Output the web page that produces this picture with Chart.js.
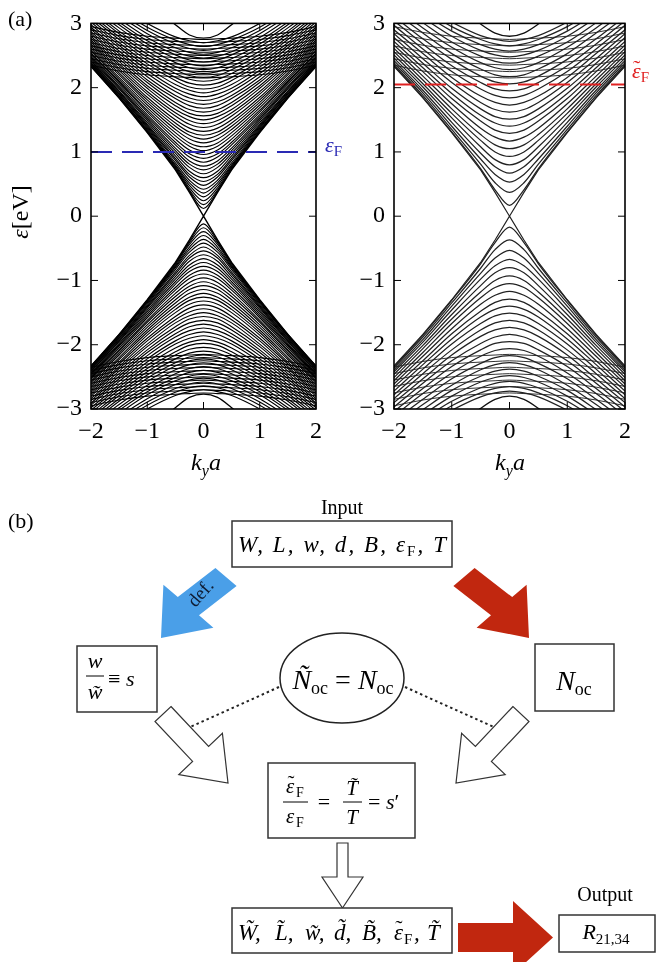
<!DOCTYPE html>
<html>
<head>
<meta charset="utf-8">
<script src="https://cdn.jsdelivr.net/npm/chart.js@4.4.1/dist/chart.umd.min.js"></script>
<style>
body { margin: 0; background: #fff; }
#page { position: relative; width: 656px; height: 962px; overflow: hidden; font-family: "Liberation Serif", serif; }
canvas { position: absolute; }
.lbl { position: absolute; white-space: nowrap; color: #000; line-height: 1; }
.sub { position: relative; top: 6px; font-size: 16px; font-style: normal; }
.acc { position: relative; display: inline-block; }
.acc b { position: absolute; left: 1px; top: -3px; font-weight: normal; font-style: normal; }
svg { position: absolute; left: 0; top: 0; }
</style>
</head>
<body>
<div id="page">
  <canvas id="leftChart" width="330" height="470" style="left:0;top:0"></canvas>
  <canvas id="rightChart" width="326" height="470" style="left:330px;top:0"></canvas>

  <div class="lbl" style="left:8px;top:8px;font-size:22px">(a)</div>
  <div class="lbl" style="left:20px;top:212px;font-size:24px;transform:translate(-50%,-50%) rotate(-90deg)"><i>ε</i>[eV]</div>
  <div class="lbl" style="left:206px;top:462px;font-size:24px;transform:translate(-50%,-50%)"><i>k</i><span class="sub"><i>y</i></span><i>a</i></div>
  <div class="lbl" style="left:510px;top:462px;font-size:24px;transform:translate(-50%,-50%)"><i>k</i><span class="sub"><i>y</i></span><i>a</i></div>
  <div class="lbl" style="left:325px;top:134px;font-size:22px;color:#2a2ab4"><i>ε</i><span class="sub" style="top:4px;font-size:15px">F</span></div>
  <div class="lbl" style="left:632px;top:60px;font-size:22px;color:#e02020"><span class="acc"><i>ε</i><b>˜</b></span><span class="sub" style="top:4px;font-size:15px">F</span></div>

  <svg width="656" height="962" font-family="Liberation Serif, serif">
    <text x="8" y="528" font-size="22">(b)</text>

    <text x="342" y="514" font-size="20" text-anchor="middle">Input</text>
    <rect x="232" y="521" width="220" height="46" fill="#fff" stroke="#333" stroke-width="1.5"/>
    <text x="342" y="552" font-size="23" font-style="italic" text-anchor="middle" textLength="208" lengthAdjust="spacing">W, L, w, d, B, ε<tspan dy="4" font-size="15" font-style="normal">F</tspan><tspan dy="-4">, T</tspan></text>

    <!-- coloured arrows -->
    <polygon points="215.4,567.9 177.8,597.1 163.4,584.7 161,638 213.4,627.7 199,615.3 236.6,586.1" fill="#4a9fe8"/>
    <text x="0" y="0" font-size="19" fill="#0f1c33" transform="translate(205,597) rotate(-49)" text-anchor="middle">def.</text>
    <polygon points="474.6,567.9 512.2,597.1 526.6,584.7 529,638 476.6,627.7 491,615.3 453.4,586.1" fill="#c1270f"/>

    <!-- second row -->
    <rect x="77" y="646" width="80" height="66" fill="#fff" stroke="#333" stroke-width="1.5"/>
    <text x="95" y="668" font-size="22" font-style="italic" text-anchor="middle">w</text>
    <line x1="86" y1="676" x2="104" y2="676" stroke="#000" stroke-width="1"/>
    <text x="95" y="699" font-size="22" font-style="italic" text-anchor="middle">w̃</text>
    <text x="108" y="686" font-size="22">≡ <tspan font-style="italic">s</tspan></text>

    <ellipse cx="342" cy="678" rx="62" ry="45" fill="#fff" stroke="#222" stroke-width="1.5"/>
    <text x="343" y="689" font-size="28" font-style="italic" text-anchor="middle">Ñ<tspan dy="5" font-size="18" font-style="normal">oc</tspan><tspan dy="-5" font-style="normal"> = </tspan>N<tspan dy="5" font-size="18" font-style="normal">oc</tspan></text>

    <rect x="535" y="644" width="79" height="67" fill="#fff" stroke="#333" stroke-width="1.5"/>
    <text x="574" y="690" font-size="28" font-style="italic" text-anchor="middle">N<tspan dy="5" font-size="18" font-style="normal">oc</tspan></text>

    <line x1="279" y1="687" x2="188" y2="728" stroke="#222" stroke-width="2" stroke-dasharray="2.5,3"/>
    <line x1="405" y1="687" x2="496" y2="728" stroke="#222" stroke-width="2" stroke-dasharray="2.5,3"/>

    <!-- hollow arrows -->
    <polygon points="171,706.5 208.6,746.4 222.4,733.3 228,783 178.8,774.5 192.6,761.4 155,721.5" fill="#fff" stroke="#333" stroke-width="1.2"/>
    <polygon points="513,706.5 475.4,746.4 461.6,733.3 456,783 505.2,774.5 491.4,761.4 529,721.5" fill="#fff" stroke="#333" stroke-width="1.2"/>

    <!-- scaling box -->
    <rect x="268" y="763" width="147" height="75" fill="#fff" stroke="#333" stroke-width="1.5"/>
    <text x="286" y="793" font-size="21" font-style="italic">ε</text>
    <text x="291" y="790" font-size="21" text-anchor="middle">˜</text>
    <text x="296" y="797" font-size="14">F</text>
    <line x1="283" y1="802" x2="308" y2="802" stroke="#000" stroke-width="1"/>
    <text x="286" y="823" font-size="21" font-style="italic">ε</text>
    <text x="296" y="827" font-size="14">F</text>
    <text x="324" y="809" font-size="22" text-anchor="middle">=</text>
    <text x="352" y="795" font-size="21" font-style="italic" text-anchor="middle">T̃</text>
    <line x1="343" y1="802" x2="362" y2="802" stroke="#000" stroke-width="1"/>
    <text x="352" y="824" font-size="21" font-style="italic" text-anchor="middle">T</text>
    <text x="368" y="809" font-size="22">= <tspan font-style="italic">s</tspan>′</text>

    <polygon points="337,843 348,843 348,877 363,877 342.5,908 322,877 337,877" fill="#fff" stroke="#333" stroke-width="1.2"/>

    <!-- bottom row -->
    <rect x="232" y="908" width="220" height="45" fill="#fff" stroke="#333" stroke-width="1.5"/>
    <g font-size="23" font-style="italic">
      <text x="238" y="940">W̃,</text>
      <text x="275" y="940">L̃,</text>
      <text x="305" y="940">w̃,</text>
      <text x="334" y="940">d̃,</text>
      <text x="362" y="940">B̃,</text>
      <text x="394" y="940">ε</text>
      <text x="414" y="940">,</text>
      <text x="427" y="940">T̃</text>
    </g>
    <text x="399" y="935" font-size="22" text-anchor="middle">˜</text>
    <text x="404" y="944" font-size="15">F</text>

    <polygon points="458,923 513,923 513,901 553,937.5 513,974 513,952 458,952" fill="#c1270f"/>

    <text x="605" y="901" font-size="20" text-anchor="middle">Output</text>
    <rect x="559" y="915" width="96" height="37" fill="#fff" stroke="#333" stroke-width="1.5"/>
    <text x="606" y="939" font-size="22" font-style="italic" text-anchor="middle">R<tspan dy="5" font-size="15" font-style="normal">21,34</tspan></text>
  </svg>
</div>

<script>
// k grid (positive half, mirrored for k < 0)
const kHalf = [0, 0.25, 0.5, 1, 1.5, 2];
const kTicks = [-2, -1, 0, 1, 2];
const eTicks = [-3, -2, -1, 0, 1, 2, 3];

// Fermi energies (dashed lines)
const fermiLeft = 1.0;
const fermiRight = 2.05;

// linear band through the Dirac point (outer edge of the cone)
const diracLine = [0, 0.37, 0.72, 1.30, 1.84, 2.33];

// left panel: conduction bands read at k = 0, 0.25, 0.5, 1, 1.5, 2
const leftBands = [
  [0.12, 0.39, 0.73, 1.31, 1.84, 2.33],
  [0.18, 0.41, 0.74, 1.31, 1.85, 2.34],
  [0.24, 0.44, 0.76, 1.32, 1.86, 2.34],
  [0.30, 0.48, 0.78, 1.33, 1.86, 2.35],
  [0.36, 0.52, 0.80, 1.35, 1.87, 2.36],
  [0.42, 0.56, 0.83, 1.37, 1.89, 2.37],
  [0.48, 0.61, 0.87, 1.39, 1.90, 2.38],
  [0.54, 0.65, 0.90, 1.41, 1.92, 2.39],
  [0.60, 0.70, 0.94, 1.43, 1.94, 2.41],
  [0.66, 0.76, 0.98, 1.46, 1.95, 2.42],
  [0.72, 0.81, 1.02, 1.49, 1.98, 2.44],
  [0.78, 0.86, 1.06, 1.52, 2.00, 2.46],
  [0.84, 0.92, 1.11, 1.55, 2.02, 2.48],
  [0.90, 0.97, 1.15, 1.58, 2.05, 2.50],
  [0.96, 1.03, 1.20, 1.62, 2.08, 2.52],
  [1.02, 1.09, 1.25, 1.65, 2.10, 2.54],
  [1.08, 1.14, 1.30, 1.69, 2.13, 2.57],
  [1.14, 1.20, 1.35, 1.73, 2.16, 2.59],
  [1.20, 1.26, 1.40, 1.77, 2.20, 2.62],
  [1.26, 1.31, 1.45, 1.81, 2.23, 2.65],
  [1.32, 1.37, 1.50, 1.85, 2.27, 2.68],
  [1.38, 1.43, 1.56, 1.90, 2.30, 2.71],
  [1.44, 1.49, 1.61, 1.94, 2.34, 2.74],
  [1.50, 1.55, 1.66, 1.99, 2.37, 2.77],
  [1.56, 1.60, 1.72, 2.03, 2.41, 2.80],
  [1.62, 1.66, 1.77, 2.08, 2.45, 2.84],
  [1.68, 1.72, 1.83, 2.12, 2.49, 2.87],
  [1.74, 1.78, 1.88, 2.17, 2.53, 2.91],
  [1.80, 1.84, 1.94, 2.22, 2.57, 2.94],
  [1.86, 1.90, 1.99, 2.27, 2.62, 2.98],
  [1.92, 1.96, 2.05, 2.32, 2.66, 3.02],
  [1.98, 2.01, 2.11, 2.37, 2.70, 3.06],
  [2.04, 2.07, 2.16, 2.42, 2.75, 3.10],
  [2.10, 2.13, 2.22, 2.47, 2.79, 3.14],
  [2.16, 2.19, 2.28, 2.52, 2.84, 3.18],
  [2.22, 2.25, 2.33, 2.57, 2.88, 3.22],
  [2.28, 2.31, 2.39, 2.63, 2.93, 3.26],
  [2.34, 2.37, 2.45, 2.68, 2.98, 3.30],
  [2.40, 2.43, 2.51, 2.73, 3.02, 3.35],
  [2.46, 2.49, 2.56, 2.78, 3.07, 3.39],
  [2.52, 2.55, 2.62, 2.84, 3.12, 3.43],
  [2.58, 2.61, 2.68, 2.89, 3.17, 3.48],
  [2.64, 2.67, 2.74, 2.94, 3.22, 3.52],
  [2.70, 2.73, 2.79, 3.00, 3.27, 3.57]
];
// left panel: nearly flat bands near the top
const leftFlatBands = [
  [2.15, 2.16, 2.17, 2.20, 2.26, 2.35],
  [2.20, 2.21, 2.22, 2.25, 2.31, 2.40],
  [2.25, 2.26, 2.27, 2.30, 2.36, 2.45],
  [2.30, 2.31, 2.32, 2.35, 2.41, 2.50],
  [2.35, 2.36, 2.37, 2.40, 2.46, 2.55],
  [2.40, 2.41, 2.42, 2.45, 2.51, 2.60],
  [2.45, 2.46, 2.47, 2.50, 2.56, 2.65],
  [2.50, 2.51, 2.52, 2.55, 2.61, 2.70],
  [2.55, 2.56, 2.57, 2.60, 2.66, 2.75],
  [2.60, 2.61, 2.62, 2.65, 2.71, 2.80],
  [2.65, 2.66, 2.67, 2.70, 2.76, 2.85],
  [2.70, 2.71, 2.72, 2.75, 2.81, 2.90],
  [2.75, 2.76, 2.77, 2.80, 2.86, 2.95]
];
const leftDome = [2.77, 2.82, 2.98, 3.35, 3.60, 3.80];

// right panel (scaled system)
const rightBands = [
  [0.17, 0.41, 0.74, 1.31, 1.85, 2.34],
  [0.37, 0.52, 0.81, 1.35, 1.88, 2.36],
  [0.53, 0.65, 0.89, 1.40, 1.92, 2.39],
  [0.67, 0.77, 0.98, 1.46, 1.96, 2.42],
  [0.80, 0.88, 1.08, 1.53, 2.01, 2.46],
  [0.93, 1.00, 1.18, 1.60, 2.06, 2.51],
  [1.05, 1.11, 1.27, 1.67, 2.12, 2.56],
  [1.17, 1.23, 1.37, 1.75, 2.18, 2.61],
  [1.29, 1.34, 1.48, 1.83, 2.25, 2.66],
  [1.40, 1.45, 1.57, 1.91, 2.31, 2.72],
  [1.51, 1.55, 1.67, 1.99, 2.38, 2.78],
  [1.62, 1.66, 1.77, 2.08, 2.45, 2.84],
  [1.73, 1.77, 1.87, 2.16, 2.53, 2.90],
  [1.84, 1.88, 1.98, 2.25, 2.60, 2.97],
  [1.95, 1.98, 2.08, 2.34, 2.68, 3.04],
  [2.06, 2.09, 2.18, 2.44, 2.76, 3.11],
  [2.17, 2.20, 2.29, 2.53, 2.85, 3.18],
  [2.28, 2.31, 2.39, 2.63, 2.93, 3.26],
  [2.38, 2.41, 2.49, 2.71, 3.01, 3.33],
  [2.48, 2.51, 2.58, 2.80, 3.09, 3.40],
  [2.57, 2.60, 2.67, 2.88, 3.16, 3.47],
  [2.65, 2.68, 2.75, 2.95, 3.23, 3.53],
  [2.72, 2.75, 2.81, 3.02, 3.28, 3.58]
];
const rightFlatBands = [
  [2.15, 2.16, 2.17, 2.20, 2.26, 2.35],
  [2.25, 2.26, 2.27, 2.30, 2.36, 2.45],
  [2.35, 2.36, 2.37, 2.40, 2.46, 2.55],
  [2.45, 2.46, 2.47, 2.50, 2.56, 2.65],
  [2.55, 2.56, 2.57, 2.60, 2.66, 2.75],
  [2.65, 2.66, 2.67, 2.70, 2.76, 2.85],
  [2.75, 2.76, 2.77, 2.80, 2.86, 2.95]
];
const rightDome = [2.80, 2.85, 2.99, 3.35, 3.60, 3.80];

function tickText(v) {
  return v < 0 ? '\u2212' + Math.abs(v) : String(v);
}

// full k range from the half grid, sign flips the band into the valence side
function bandPoints(row, sign) {
  const pts = [];
  for (let i = kHalf.length - 1; i > 0; i--) pts.push({ x: -kHalf[i], y: sign * row[i] });
  for (let i = 0; i < kHalf.length; i++) pts.push({ x: kHalf[i], y: sign * row[i] });
  return pts;
}

function bandSets(rows, color, width) {
  const sets = [];
  rows.forEach(row => {
    [1, -1].forEach(sign => {
      sets.push({
        data: bandPoints(row, sign),
        borderColor: color,
        borderWidth: width,
        cubicInterpolationMode: 'monotone',
        showLine: true,
        pointRadius: 0
      });
    });
  });
  return sets;
}

function diracSets(color, width) {
  return [1, -1].map(sign => ({
    data: bandPoints(diracLine, sign),
    borderColor: color,
    borderWidth: width,
    tension: 0,
    showLine: true,
    pointRadius: 0
  }));
}

function fermiSet(value, color) {
  return {
    data: [{ x: kTicks[0], y: value }, { x: kTicks[kTicks.length - 1], y: value }],
    borderColor: color,
    borderWidth: 2,
    borderDash: [21, 10],
    showLine: true,
    pointRadius: 0,
    order: -1
  };
}

// frame on all four sides with inward ticks
const framePlugin = {
  id: 'frame',
  afterDatasetsDraw(chart) {
    const { ctx, chartArea: a, scales } = chart;
    ctx.save();
    ctx.strokeStyle = '#000';
    ctx.lineWidth = 1;
    ctx.beginPath();
    scales.x.ticks.forEach(t => {
      const px = scales.x.getPixelForValue(t.value);
      ctx.moveTo(px, a.bottom); ctx.lineTo(px, a.bottom - 7);
      ctx.moveTo(px, a.top); ctx.lineTo(px, a.top + 7);
    });
    scales.y.ticks.forEach(t => {
      const py = scales.y.getPixelForValue(t.value);
      ctx.moveTo(a.left, py); ctx.lineTo(a.left + 7, py);
      ctx.moveTo(a.right, py); ctx.lineTo(a.right - 7, py);
    });
    ctx.stroke();
    ctx.lineWidth = 1.6;
    ctx.strokeRect(a.left, a.top, a.right - a.left, a.bottom - a.top);
    ctx.restore();
  }
};

function makeChart(id, datasets, yWidth, padRight) {
  const tickFont = { family: 'Liberation Serif', size: 24 };
  return new Chart(document.getElementById(id), {
    type: 'scatter',
    data: { datasets: datasets },
    options: {
      responsive: false,
      animation: false,
      events: [],
      layout: { padding: { left: 0, right: padRight, top: 16, bottom: 0 } },
      plugins: { legend: { display: false }, tooltip: { enabled: false } },
      scales: {
        x: {
          type: 'linear', min: -2, max: 2,
          afterBuildTicks: s => { s.ticks = kTicks.map(v => ({ value: v })); },
          afterFit: s => { s.height = 61; },
          grid: { display: false, drawTicks: false, tickLength: 0 },
          border: { display: false },
          ticks: { padding: 8, color: '#000', font: tickFont, autoSkip: false, maxRotation: 0, minRotation: 0, callback: v => tickText(v) }
        },
        y: {
          type: 'linear', min: -3, max: 3,
          afterBuildTicks: s => { s.ticks = eTicks.map(v => ({ value: v })); },
          afterFit: s => { s.width = yWidth; },
          grid: { display: false, drawTicks: false, tickLength: 0 },
          border: { display: false },
          ticks: { padding: 9, color: '#000', font: tickFont, autoSkip: false, callback: v => tickText(v) }
        }
      }
    },
    plugins: [framePlugin]
  });
}

const leftData = [fermiSet(fermiLeft, '#2a2ab4')]
  .concat(diracSets('#000', 1.4))
  .concat(bandSets(leftBands, '#000', 1.15))
  .concat(bandSets(leftFlatBands, '#000', 1.1))
  .concat(bandSets([leftDome], '#000', 1.3));

const rightData = [fermiSet(fermiRight, '#e02020')]
  .concat(diracSets('#222', 1.2))
  .concat(bandSets(rightBands, '#222', 1.25))
  .concat(bandSets(rightFlatBands, '#333', 1.0))
  .concat(bandSets([rightDome], '#111', 1.3));

makeChart('leftChart', leftData, 91, 8);
makeChart('rightChart', rightData, 64, 31);
</script>
</body>
</html>
